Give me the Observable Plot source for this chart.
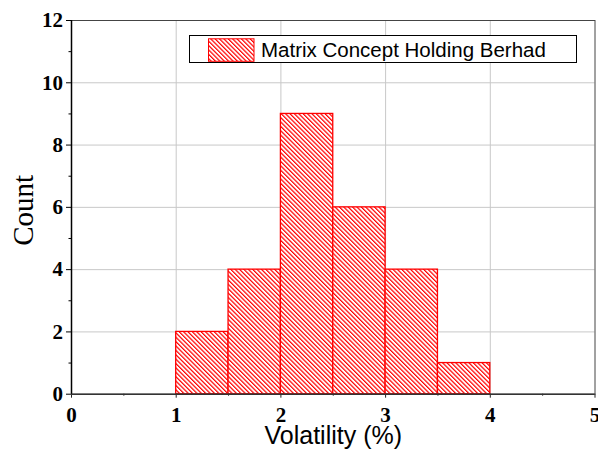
<!DOCTYPE html>
<html>
<head>
<meta charset="utf-8">
<script src="https://cdn.jsdelivr.net/npm/d3@7"></script>
<script src="https://cdn.jsdelivr.net/npm/@observablehq/plot@0.6"></script>
<style>
  html, body { margin: 0; padding: 0; background: #fff; }
</style>
</head>
<body>
<div id="chart"></div>
<script>
// Histogram of daily volatility (%)
const binStart = [1.0, 1.5, 2.0, 2.5, 3.0, 3.5];
const binEnd   = [1.5, 2.0, 2.5, 3.0, 3.5, 4.0];
const counts   = [2, 4, 9, 6, 4, 1];
const seriesName = "Matrix Concept Holding Berhad";

const xTicks = [0, 1, 2, 3, 4, 5];
const xMinor = [0.5, 1.5, 2.5, 3.5, 4.5];
const yTicks = [0, 2, 4, 6, 8, 10, 12];
const yMinor = [1, 3, 5, 7, 9, 11];

const bins = binStart.map((s, i) => ({x1: s, x2: binEnd[i], count: counts[i]}));

const serif = "'Liberation Serif', 'Times New Roman', serif";
const sans = "'Liberation Sans', Arial, sans-serif";
const red = "#ff0000";

const plot = Plot.plot({
  width: 598,
  height: 462,
  marginLeft: 71,
  marginRight: 3.5,
  marginTop: 20,
  marginBottom: 68.3,
  style: {background: "#fff", fontFamily: serif, overflow: "visible"},
  x: {domain: [0, 5]},
  y: {domain: [0, 12]},
  marks: [
    Plot.gridX(xTicks.slice(1, -1), {stroke: "#c8c8c8", strokeOpacity: 1}),
    Plot.gridY(yTicks.slice(1, -1), {stroke: "#c8c8c8", strokeOpacity: 1}),
    Plot.rectY(bins, {
      x1: "x1", x2: "x2", y: "count",
      fill: "url(#hatch)", stroke: red, strokeWidth: 1.3
    }),
    Plot.frame({stroke: "#444"}),
    // bottom axis
    Plot.axisX(xTicks, {tickSize: 4, tickPadding: 8.5, label: null, stroke: "#222"}),
    Plot.axisX(xMinor, {tickSize: 2, tickFormat: () => "", label: null, stroke: "#222"}),
    // left axis
    Plot.axisY(yTicks, {tickSize: 5, tickPadding: 3.5, label: null, stroke: "#000"}),
    Plot.axisY(yMinor, {tickSize: 2.5, tickFormat: () => "", label: null, stroke: "#000"}),
    Plot.ruleY([0], {stroke: "#333", strokeWidth: 1.5}),
    Plot.ruleX([0], {stroke: "#000", strokeWidth: 1.5}),
    // axis titles
    Plot.text(["Count"], {
      frameAnchor: "left", dx: -39, dy: 3, rotate: -90,
      lineAnchor: "bottom", textAnchor: "middle",
      fontFamily: serif, fontSize: 29, fill: "#000"
    }),
    Plot.text(["Volatility (%)"], {
      frameAnchor: "bottom", dy: 49.5,
      lineAnchor: "bottom", textAnchor: "middle",
      fontFamily: sans, fontSize: 25, fill: "#000"
    })
  ]
});

const svg = d3.select(plot);

// bold serif tick labels on both axes (the numeric texts)
svg.selectAll("text")
  .filter(function () { return /^\d+$/.test(this.textContent.trim()); })
  .style("font-family", serif)
  .style("font-size", "21px")
  .style("font-weight", "bold")
  .style("fill", "#000");

// diagonal hatch fill for the bars
const defs = svg.insert("defs", ":first-child");
const pat = defs.append("pattern")
  .attr("id", "hatch")
  .attr("patternUnits", "userSpaceOnUse")
  .attr("width", 3.1)
  .attr("height", 3.1)
  .attr("patternTransform", "rotate(-45)");
pat.append("rect").attr("width", 3.1).attr("height", 3.1).attr("fill", "#fff");
pat.append("line")
  .attr("x1", 0.6).attr("y1", -1).attr("x2", 0.6).attr("y2", 4.1)
  .attr("stroke", red).attr("stroke-width", 1.25);

// legend box
const lg = svg.append("g").attr("class", "legend");
lg.append("rect")
  .attr("x", 189.5).attr("y", 35.5).attr("width", 387).attr("height", 27)
  .attr("fill", "#fff").attr("stroke", "#000").attr("stroke-width", 1);
lg.append("rect")
  .attr("x", 208.5).attr("y", 38.8).attr("width", 45.5).attr("height", 22.5)
  .attr("fill", "url(#hatch)").attr("stroke", red).attr("stroke-width", 1);
lg.append("text")
  .attr("x", 261).attr("y", 56.7)
  .attr("text-anchor", "start")
  .attr("font-family", sans).attr("font-size", 20.5).attr("fill", "#000")
  .text(seriesName);

document.getElementById("chart").appendChild(plot);
</script>
</body>
</html>
